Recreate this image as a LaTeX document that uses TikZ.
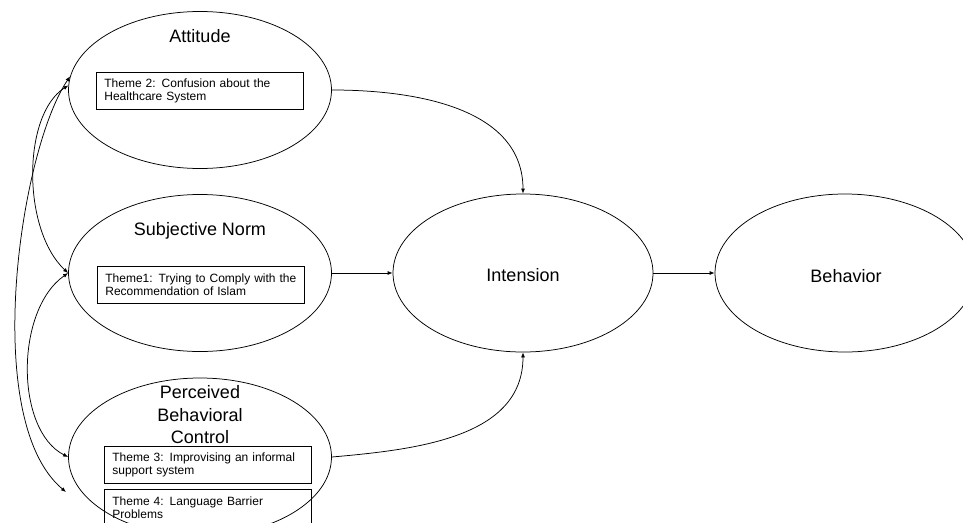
\documentclass[tikz,border=0pt]{standalone}
\usepackage{fontspec}
\setmainfont{Liberation Sans}
\usepackage{tikz}
\usetikzlibrary{positioning, arrows.meta, shapes.geometric}

\tikzset{
  construct/.style={draw, ellipse, line width=0.75pt, inner sep=0pt, minimum width=263pt, minimum height=157pt},
  bigtext/.style={font=\fontsize{18}{22.5}\selectfont, align=center},
  themebox/.style={draw, line width=0.7pt, anchor=north west, align=left, text width=191pt,
    inner xsep=8pt, inner ysep=3pt, minimum height=37pt, font=\fontsize{12}{13.5}\selectfont},
  link/.style={line width=0.75pt, -{Latex[length=5pt,width=4pt]}},
  cov/.style={line width=0.75pt, {Latex[length=5pt,width=4pt]}-{Latex[length=5pt,width=4pt]}}
}

\begin{document}
\begin{tikzpicture}[x=1pt, y=-1pt]
\useasboundingbox (0,0) rectangle (963,522);
\fill[white] (0,0) rectangle (963,522);

% --- Constructs ---
\node[construct] (att) at (200,90) {};
\node[construct] (subj) at (200,273) {};
\node[construct, minimum height=158pt] (pbc) at (200,457) {};
\node[construct, minimum width=260pt, minimum height=158pt] (int) at (523,273) {};
\node[construct, minimum width=260pt, minimum height=158pt] (beh) at (845,273) {};

% --- Labels ---
\node[bigtext] (attlabel) at (200,36) {Attitude};
\node[bigtext] (subjlabel) at (200,231) {Subjective Norm};
\node[bigtext] (pbclabel) at (200,415) {Perceived\\Behavioral\\Control};
\node[bigtext] (intlabel) at (523,275) {Intension};
\node[bigtext] (behlabel) at (846,276) {Behavior};

% --- Themes ---
\node[themebox] (theme2) at (96,72) {Theme 2: Confusion about the\\Healthcare System};
\node[themebox] (theme1) at (97,266) {Theme1: Trying to Comply with the\\Recommendation of Islam};
\node[themebox] (theme3) at (104,446) {Theme 3: Improvising an informal\\support system};
\node[themebox] (theme4) at (104,489) {Theme 4: Language Barrier\\Problems};

% --- Paths to intension and behavior ---
\draw[link] (att.east) to[out=0, in=90] (int.north);
\draw[link] (subj.east) -- (int.west);
\draw[link] (pbc.east) to[out=5, in=-90] (int.south);
\draw[link] (int.east) -- (beh.west);

% --- Correlations on the left ---
\coordinate (pbclow) at (66,492);
\draw[cov] (att.174) .. controls (20,150) and (-20,420) .. (pbclow);
\draw[cov] (att.178) .. controls (22,115) and (22,230) .. (subj.west);
\draw[cov] (subj.west) .. controls (15,310) and (15,430) .. (pbc.west);
\end{tikzpicture}
\end{document}
